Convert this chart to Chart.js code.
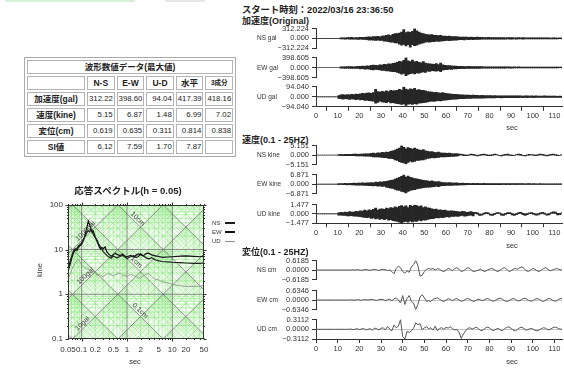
<!DOCTYPE html>
<html><head><meta charset="utf-8">
<script src="https://cdn.jsdelivr.net/npm/chart.js@4.4.1/dist/chart.umd.min.js"></script>
<style>
html,body{margin:0;padding:0;background:#fff}
body{width:564px;height:368px;position:relative;overflow:hidden;font-family:"Liberation Sans","Noto Sans CJK JP",sans-serif;color:#222}
.t{position:absolute;white-space:nowrap;line-height:1;transform:translateY(-50%)}
canvas{position:absolute}
.strip{position:absolute;top:0;height:2px}
table.wt{position:absolute;left:24px;top:57px;width:212px;border-collapse:separate;border-spacing:2px;border:1px solid #aaa;table-layout:fixed;font-size:8.5px;color:#222}
table.wt td{border:1px solid #b4b4b4;height:12px;padding:0 1px;line-height:12px;white-space:nowrap;overflow:hidden}
table.wt td.h{font-weight:bold;text-align:center}
table.wt td.v{text-align:right;font-size:7.8px;padding-right:1px}
table.wt td.small{font-size:6.5px}
</style>
</head><body>
<div class="strip" style="left:5px;width:130px;background:rgba(140,215,140,0.35)"></div>
<div class="strip" style="left:165px;width:40px;background:rgba(160,160,160,0.25)"></div>
<table class="wt" id="peakTable">
<colgroup><col style="width:58px"><col><col><col><col><col></colgroup>
</table>
<script>
// ---------- peak value table ----------
const tableTitle = '波形数値データ(最大値)';
const tableCols = ['N-S', 'E-W', 'U-D', '水平', '3成分'];
const tableRowNames = ['加速度(gal)', '速度(kine)', '変位(cm)', 'SI値'];
const peakAcc = ['312.22', '398.60', '94.04', '417.39', '418.16'];
const peakVel = ['5.15', '6.87', '1.48', '6.99', '7.02'];
const peakDisp = ['0.619', '0.635', '0.311', '0.814', '0.838'];
const siValues = ['6.12', '7.59', '1.70', '7.87', ''];

// ---------- response spectrum (h = 0.05) ----------
const specPeriods = [0.05,0.055,0.06,0.065,0.07,0.075,0.08,0.085,0.09,0.1,
  0.11,0.12,0.13,0.14,0.15,0.16,0.17,0.18,0.2,0.22,
  0.24,0.26,0.28,0.3,0.33,0.36,0.4,0.45,0.5,0.55,
  0.6,0.7,0.8,0.9,1.0,1.2,1.4,1.6,1.8,2.0,
  2.3,2.6,3.0,3.5,4,5,6,8,10,15,
  20,30,40,50];
const specNS = [3.6,5.2,7.0,9.0,10.2,9.4,11.0,12.0,12.6,14.0,
  17,20,24,26.5,25,28,27,22,18.5,16,
  13,11.5,10,9.0,8.1,7.4,6.8,6.4,7.1,6.8,
  6.5,7.0,7.4,6.8,6.3,6.9,7.3,6.6,7.0,8.1,
  7.2,6.6,6.2,6.6,6.0,5.6,5.4,5.3,5.2,5.1,
  5.0,4.9,4.9,5.0];
const specEW = [3.2,4.5,6.2,8.0,9.6,10.5,9.8,11.2,12.0,13.0,
  16,22,31,43,36,29,24,26,19,15,
  12,10.2,11.2,10.4,11.5,8.8,7.8,7.1,7.6,8.3,
  7.8,7.3,7.9,7.1,6.9,7.4,6.8,7.5,8.0,7.6,
  7.2,8.1,8.3,7.6,7.3,7.0,6.7,6.8,6.9,7.1,
  7.2,7.0,6.9,7.1];
const specUD = [2.2,2.8,3.4,4.2,4.8,5.2,5.8,6.0,5.5,4.6,
  4.2,3.9,3.6,3.8,3.3,3.1,3.0,3.2,3.1,2.6,
  2.8,2.7,2.5,2.5,2.7,2.8,2.9,2.7,2.6,2.8,
  2.8,3.0,2.7,2.6,2.5,2.8,2.6,2.5,2.3,2.3,
  2.6,2.8,2.9,2.5,2.2,2.1,1.9,1.8,1.65,1.55,
  1.5,1.5,1.5,1.6];
const specPeriodTicks = [0.05,0.1,0.2,0.5,1,2,5,10,20,50];
const specVelTicks = [0.1,1,10,100];
// tripartite grid: decades of velocity (kine), period (s), displacement (cm), acceleration (gal)
const velDecades = [0.1,1,10];
const perDecades = [0.01,0.1,1,10];
const dispDecades = [0.0001,0.001,0.01,0.1,1,10,100,1000];
const accDecades = [0.01,0.1,1,10,100,1000,10000];
const gridMantissas = [2,3,4,5,6,7,8,9];
const diagLabels = [
  {kind:'disp', val:10, T:1.5, text:'10cm'},
  {kind:'disp', val:1, T:1.4, text:'1cm'},
  {kind:'disp', val:0.1, T:1.7, text:'0.1cm'},
  {kind:'acc', val:1000, T:0.14, text:'1000gal'},
  {kind:'acc', val:100, T:0.14, text:'100gal'},
  {kind:'acc', val:10, T:0.12, text:'10gal'}
];

// ---------- waveforms: per-second range [low, high], t = 0..114 s ----------
const timeTicks = [0,10,20,30,40,50,60,70,80,90,100,110];
const accPeaks = [312.224, 398.605, 94.040];
const velPeaks = [5.151, 6.871, 1.477];
const dispPeaks = [0.6185, 0.6346, 0.3112];

const accNSHigh = [2,2,2,2,2,2,2,2,2,2,2,
  15,20,18,25,22,30,20,28,25,32,30,35,
  45,50,40,60,55,65,50,70,
  80,95,110,90,130,150,
  150,170,200,280,180,210,190,220,312.224,240,200,170,150,130,120,
  110,120,95,100,90,95,75,
  70,65,75,60,55,60,50,
  40,45,38,42,35,40,36,32,38,30,34,
  28,25,30,26,24,28,22,25,27,23,20,24,22,26,21,19,23,20,22,18,21,19,17,20,18,16,19,17,15,18,16,14,17,15,13,16,14,12];
const accNSLow = [-2,-2,-2,-2,-2,-2,-2,-2,-2,-2,-2,
  -18,-15,-22,-20,-28,-24,-26,-22,-30,-28,-34,-30,
  -42,-55,-48,-52,-62,-58,-66,-60,
  -85,-90,-105,-120,-115,-140,
  -140,-180,-210,-190,-240,-200,-280,-200,-230,-210,-180,-160,-140,-120,-110,
  -115,-100,-105,-90,-95,-85,-80,
  -72,-60,-68,-62,-58,-52,-48,
  -42,-40,-44,-36,-38,-34,-37,-30,-33,-32,-28,
  -26,-28,-24,-27,-25,-22,-26,-23,-21,-25,-22,-20,-24,-21,-19,-22,-20,-18,-21,-19,-17,-20,-18,-16,-19,-17,-15,-18,-16,-14,-17,-15,-13,-16,-14,-12,-15,-13];
const accEWHigh = [1,1,1,1,1,1,1,1,1,1,1,
  25,30,28,35,32,40,30,38,42,
  50,60,45,70,55,85,100,90,75,
  110,95,130,120,150,140,170,
  180,210,250,230,290,398.605,270,240,300,230,250,210,190,240,180,160,
  150,140,130,160,120,180,110,
  90,80,75,70,60,55,50,
  45,42,40,38,44,36,35,38,33,32,35,30,31,29,28,
  27,25,28,24,26,23,25,22,24,21,23,20,22,19,21,18,20,17,19,18,16,18,15,17,14,16,15,13,15,12,14,13,12,11];
const accEWLow = [-1,-1,-1,-1,-1,-1,-1,-1,-1,-1,-1,
  -22,-28,-32,-30,-36,-34,-38,-35,-40,
  -55,-50,-62,-58,-70,-90,-95,-80,-85,
  -100,-120,-115,-140,-135,-160,-170,
  -170,-200,-230,-270,-240,-330,-280,-250,-230,-260,-220,-230,-200,-180,-200,-150,
  -160,-130,-140,-150,-130,-170,-105,
  -85,-82,-70,-72,-58,-56,-48,
  -44,-40,-42,-36,-40,-38,-34,-36,-32,-34,-31,-30,-29,-30,-27,
  -26,-27,-24,-25,-24,-22,-24,-21,-23,-22,-20,-21,-20,-18,-20,-17,-19,-18,-16,-17,-15,-17,-14,-16,-15,-13,-14,-13,-12,-13,-12,-11,-12,-10];
const accUDHigh = [0.5,0.5,0.5,0.5,0.5,0.5,0.5,0.5,0.5,0.5,
  12,18,20,16,22,19,24,21,25,23,
  28,32,30,35,38,33,40,
  70,48,45,52,46,55,50,60,55,
  58,62,70,64,94.04,72,66,76,70,80,64,68,62,60,55,50,46,
  44,40,42,38,36,40,33,30,
  28,26,24,23,20,19,
  18,16,17,15,14,16,13,14,12,13,12,11,12,11,
  10,11,9,10,9,10,8,9,10,8,9,8,9,8,7,8,9,7,8,7,8,7,6,7,8,6,7,6,7,6,5,6,5,6];
const accUDLow = [-0.5,-0.5,-0.5,-0.5,-0.5,-0.5,-0.5,-0.5,-0.5,-0.5,
  -15,-17,-22,-18,-20,-24,-21,-23,-26,-22,
  -30,-28,-34,-32,-36,-38,-42,
  -60,-52,-40,-48,-50,-55,-46,-58,-56,
  -60,-64,-66,-72,-68,-80,-70,-68,-72,-64,-70,-60,-58,-56,-52,-48,-44,
  -42,-44,-38,-36,-38,-34,-31,-29,
  -28,-25,-23,-22,-20,-18,
  -17,-17,-16,-15,-15,-14,-14,-13,-13,-12,-12,-11,-11,-10,
  -10,-10,-9,-9,-10,-9,-9,-8,-9,-8,-8,-9,-8,-7,-8,-7,-8,-7,-7,-8,-7,-6,-7,-7,-6,-6,-7,-6,-6,-5,-6,-5,-5,-5];

const velNSHigh = [0.02,0.02,0.02,0.02,0.02,0.02,0.02,0.02,0.02,0.02,
  0.2,0.3,0.25,0.35,0.3,0.4,0.35,0.45,0.5,0.4,0.55,0.5,0.6,0.7,0.65,
  0.9,1.1,0.8,1.2,1.0,1.4,1.3,1.6,1.5,2.0,
  2.2,2.6,3.2,3.8,5.151,4.2,3.4,4.0,3.6,3.2,3.8,3.2,2.8,2.5,2.9,2.3,2.0,
  1.7,1.9,1.5,1.3,1.6,1.2,1.1,
  1.0,0.9,1.1,0.8,0.7,0.75,0.6,
  0.5,0.3,0.05,-0.1,0.15,0.45,0.4,0.1,-0.15,0.05,0.35,0.5,0.25,-0.05,-0.1,0.2,0.45,0.35,0.0,-0.2,
  0.1,0.4,0.45,0.15,-0.1,0.0,0.3,0.5,0.3,0.0,-0.15,0.15,0.4,0.35,0.05,-0.1,0.2,0.45,0.4,0.1,
  -0.15,0.05,0.35,0.45,0.2,-0.1,0.0,0.3,0.4];
const velNSLow = [-0.02,-0.02,-0.02,-0.02,-0.02,-0.02,-0.02,-0.02,-0.02,-0.02,
  -0.25,-0.2,-0.3,-0.3,-0.35,-0.35,-0.4,-0.4,-0.45,-0.5,-0.5,-0.55,-0.6,-0.65,-0.7,
  -0.8,-1.0,-1.0,-1.1,-1.2,-1.3,-1.5,-1.4,-1.8,-1.9,
  -2.0,-2.7,-2.9,-3.6,-4.0,-4.3,-4.9,-4.0,-3.4,-3.7,-3.5,-3.0,-2.9,-2.6,-2.7,-2.2,-1.8,
  -1.7,-1.5,-1.6,-1.4,-1.3,-1.1,-1.0,
  -1.0,-0.95,-0.85,-0.8,-0.75,-0.6,-0.55,
  0.2,-0.05,-0.3,-0.4,-0.15,0.15,0.05,-0.25,-0.45,-0.25,0.05,0.2,-0.1,-0.35,-0.4,-0.1,0.15,0.0,-0.3,-0.45,
  -0.2,0.1,0.1,-0.2,-0.4,-0.3,0.0,0.2,-0.05,-0.3,-0.45,-0.15,0.1,0.0,-0.25,-0.4,-0.1,0.15,0.05,-0.25,
  -0.45,-0.25,0.05,0.15,-0.15,-0.4,-0.3,0.0,0.1];
const velEWHigh = [0.02,0.02,0.02,0.02,0.02,0.02,0.02,0.02,0.02,0.02,
  0.3,0.4,0.35,0.5,0.45,0.6,0.5,0.7,0.6,0.8,0.7,0.9,0.8,1.0,0.9,
  1.2,1.0,1.4,1.3,1.6,1.5,1.8,2.0,2.4,2.8,
  3.0,3.6,4.3,5.0,5.6,6.871,5.2,5.8,4.9,4.5,4.1,3.8,3.4,3.1,2.8,2.6,
  2.4,2.1,2.3,1.8,1.7,1.9,1.4,1.2,
  1.2,1.0,1.1,0.9,0.8,0.85,0.7,0.65,0.7,0.6,0.55,
  0.5,0.45,0.55,0.4,0.5,0.45,0.4,0.5,0.42,0.38,0.45,0.4,0.35,0.42,0.38,0.4,0.35,0.32,0.38,0.34,
  0.3,0.36,0.32,0.3,0.34,0.3,0.28,0.32,0.3,0.26,0.3,0.28,0.25,0.3,0.27,0.24,0.28,0.25,0.22,0.26,
  0.24,0.22,0.25,0.23,0.2];
const velEWLow = [-0.02,-0.02,-0.02,-0.02,-0.02,-0.02,-0.02,-0.02,-0.02,-0.02,
  -0.35,-0.3,-0.45,-0.4,-0.55,-0.5,-0.65,-0.6,-0.75,-0.7,-0.85,-0.8,-0.95,-0.9,-1.1,
  -1.1,-1.3,-1.2,-1.5,-1.4,-1.7,-1.6,-2.2,-2.6,-3.0,
  -3.2,-3.8,-4.5,-4.7,-5.4,-5.8,-6.6,-5.3,-4.7,-4.3,-4.0,-3.6,-3.2,-2.9,-2.6,-2.4,
  -2.3,-2.2,-2.0,-1.9,-1.6,-1.8,-1.3,-1.1,
  -1.1,-1.05,-0.95,-0.9,-0.85,-0.75,-0.7,-0.6,-0.65,-0.55,-0.5,
  -0.48,-0.5,-0.42,-0.46,-0.44,-0.4,-0.45,-0.4,-0.38,-0.42,-0.36,-0.4,-0.35,-0.38,-0.34,-0.36,-0.32,-0.35,-0.3,-0.33,
  -0.32,-0.3,-0.33,-0.28,-0.3,-0.27,-0.3,-0.26,-0.28,-0.25,-0.27,-0.24,-0.26,-0.23,-0.25,-0.22,-0.24,-0.22,-0.23,-0.2,
  -0.22,-0.21,-0.2,-0.21,-0.19];
const velUDHigh = [0.01,0.01,0.01,0.01,0.01,0.01,0.01,0.01,0.01,0.01,
  0.15,0.25,0.2,0.3,0.25,0.35,0.3,0.28,0.4,0.35,
  0.5,0.45,0.6,0.5,0.65,0.55,0.7,0.9,0.6,0.75,
  0.8,0.7,0.9,0.85,1.0,0.9,1.1,1.0,
  1.2,1.3,1.1,1.25,1.0,1.35,1.2,1.4,1.3,1.15,1.25,1.0,1.1,0.95,0.9,
  0.8,0.7,0.75,0.6,0.65,0.55,0.6,0.5,0.45,0.5,
  0.45,0.4,0.35,0.3,0.4,0.35,0.25,0.3,0.35,0.25,
  0.25,0.15,-0.02,-0.05,0.12,0.24,0.18,0.0,-0.06,0.1,0.22,0.2,0.02,-0.08,0.08,0.2,0.22,0.05,-0.05,0.06,
  0.2,0.24,0.08,-0.04,0.04,0.18,0.22,0.1,-0.02,0.02,0.16,0.24,0.14,0.0,0.05,0.2,0.32,0.3,0.1,0.05,
  0.18,0.22];
const velUDLow = [-0.01,-0.01,-0.01,-0.01,-0.01,-0.01,-0.01,-0.01,-0.01,-0.01,
  -0.2,-0.2,-0.25,-0.25,-0.3,-0.3,-0.28,-0.35,-0.35,-0.4,
  -0.45,-0.5,-0.55,-0.6,-0.55,-0.7,-0.65,-0.8,-0.7,-0.85,
  -0.75,-0.9,-0.8,-1.0,-0.9,-1.05,-1.1,-1.2,
  -1.3,-1.477,-1.25,-1.2,-1.3,-1.1,-1.25,-1.15,-1.2,-1.0,-1.1,-0.95,-1.0,-0.85,-0.8,
  -0.75,-0.7,-0.6,-0.65,-0.55,-0.6,-0.5,-0.45,-0.5,-0.4,
  -0.4,-0.35,-0.4,-0.3,-0.25,-0.35,-0.3,-0.25,-0.2,-0.3,
  0.08,-0.05,-0.22,-0.2,-0.05,0.08,-0.02,-0.2,-0.22,-0.08,0.06,0.0,-0.18,-0.24,-0.1,0.04,0.02,-0.15,-0.22,-0.12,
  0.02,0.06,-0.12,-0.22,-0.14,0.0,0.04,-0.1,-0.2,-0.16,-0.02,0.06,-0.06,-0.2,-0.15,0.0,0.12,0.08,-0.15,-0.12,
  0.0,0.05];

// displacement, one sample per second
const dispNS = [0,0,0,0,0,0,0,0,0,0,0,0,0,0,0,0,0,
  0.01,-0.01,0.02,0,-0.02,0.01,0.03,0,-0.02,0.02,0.04,0.01,-0.03,0.02,0.05,0.02,-0.03,
  0.0,-0.1,-0.25,0.1,0.25,0.15,-0.1,-0.2,-0.05,-0.15,0.2,0.35,0.6185,0.3,-0.4,-0.35,-0.1,0.05,0.1,
  0.05,0.1,0.0,0.08,0.05,-0.05,-0.1,0.0,0.1,0.05,
  -0.05,0.1,0.15,0.05,-0.1,-0.05,0.05,0.15,0.1,-0.05,
  -0.1,-0.05,0.0,0.05,-0.05,-0.1,0.0,0.05,0.1,0.05,
  -0.05,-0.1,0.0,0.1,0.15,0.05,-0.1,-0.05,0.05,0.1,
  0.05,0.15,0.2,0.1,-0.05,-0.1,0.0,0.1,0.05,-0.05,
  -0.1,0.0,0.1,0.15,0.05,-0.05,0.0,0.05,0.1,0.05,
  0.0,0.05];
const dispEW = [0,0,0,0,0,0,0,0,0,0,0,0,0,0,0,0,
  0.01,0,-0.01,0.02,0.01,-0.02,0.03,0.02,-0.01,0.03,0.04,0.0,-0.03,0.02,0.05,0.03,-0.04,0.02,
  0.06,-0.05,0.08,0.15,0.0,-0.2,0.3,-0.3,0.1,0.3,-0.1,-0.2,-0.6346,-0.3,0.2,0.35,0.15,-0.1,-0.05,-0.1,0.05,0.1,0.15,0.05,
  -0.05,-0.1,0.0,0.08,0.05,-0.05,0.05,0.1,0.0,-0.08,
  -0.05,0.05,0.1,0.05,-0.05,-0.1,0.0,0.05,0.0,-0.05,
  0.05,0.1,0.05,-0.05,-0.08,0.0,0.08,0.12,0.05,-0.05,
  -0.1,-0.05,0.05,0.1,0.05,-0.05,-0.05,0.05,0.12,0.08,
  -0.02,-0.08,-0.05,0.05,0.1,0.05,-0.05,-0.1,0.0,0.08,
  0.1,0.0,-0.08,-0.05,0.05,0.1,0.05];
const dispUD = [0,0,0,0,0,0,0,0,0,0,0,0,0,0,0,0,
  0.01,-0.01,0.0,0.02,-0.01,0.01,0.03,-0.02,0.0,0.02,-0.03,0.04,0.02,-0.02,0.03,0.05,-0.02,
  0.09,0.0,-0.05,0.14,0.05,0.1,0.3112,-0.24,-0.3112,-0.07,-0.1,-0.05,0.03,0.21,0.15,0.18,-0.02,0.05,0.08,0.02,0.05,-0.02,0.1,-0.05,0.03,
  0.05,0.0,0.06,0.04,0.08,0.02,-0.02,0.0,-0.1,-0.29,
  -0.15,-0.05,0.03,0.05,0.0,0.04,0.07,0.02,-0.04,-0.03,
  0.03,0.07,0.05,-0.02,-0.04,0.0,0.03,-0.02,-0.05,0.02,
  0.06,0.08,0.03,-0.03,-0.05,0.0,0.05,0.07,0.02,-0.03,
  0.0,0.03,0.01,-0.03,-0.05,-0.02,0.02,0.05,0.03,-0.02,
  0.0,0.04,0.07,0.06,0.02,0.0,0.03];

// ---------- helpers ----------
const FONT = '"Liberation Sans","Noto Sans CJK JP",sans-serif';
Chart.defaults.font.family = FONT;
Chart.defaults.color = '#333';

function txt(s, x, y, size, opts) {
  opts = opts || {};
  const d = document.createElement('div');
  d.className = 't';
  d.textContent = s;
  d.style.left = x + 'px';
  d.style.top = y + 'px';
  d.style.fontSize = size + 'px';
  if (opts.bold) d.style.fontWeight = 'bold';
  d.style.color = opts.color || '#222';
  if (opts.center) d.style.transform = 'translate(-50%,-50%)';
  if (opts.rotate) d.style.transform = 'translate(-50%,-50%) rotate(-90deg)';
  document.body.appendChild(d);
  return d;
}
function box(x, y, w, h, color) {
  const d = document.createElement('div');
  d.style.cssText = 'position:absolute;left:' + x + 'px;top:' + y + 'px;width:' + w + 'px;height:' + h + 'px;background:' + color;
  document.body.appendChild(d);
}
function addCanvas(left, top, w, h) {
  const c = document.createElement('canvas');
  c.width = w; c.height = h;
  c.style.left = left + 'px'; c.style.top = top + 'px';
  c.style.width = w + 'px'; c.style.height = h + 'px';
  document.body.appendChild(c);
  return c;
}

// ---------- table ----------
(function buildTable() {
  const t = document.getElementById('peakTable');
  let html = '<tr><td class="h" colspan="6">' + tableTitle + '</td></tr>';
  html += '<tr><td></td>' + tableCols.map((c, i) => '<td class="h' + (i === 4 ? ' small' : '') + '">' + c + '</td>').join('') + '</tr>';
  const rows = [peakAcc, peakVel, peakDisp, siValues];
  rows.forEach((r, i) => {
    html += '<tr><td class="h">' + tableRowNames[i] + '</td>' + r.map(v => '<td class="v">' + v + '</td>').join('') + '</tr>';
  });
  t.innerHTML = t.innerHTML + html;
})();

// ---------- response spectrum ----------
const TWO_PI = 2 * Math.PI;
function velOnLine(kind, val, T) { return kind === 'disp' ? TWO_PI * val / T : val * T / TWO_PI; }

const tripartite = {
  id: 'tripartite',
  beforeDatasetsDraw(chart) {
    const {ctx, chartArea: a, scales: {x, y}} = chart;
    const T0 = x.min, T1 = x.max, V0 = y.min, V1 = y.max;
    const P = (t, v) => [x.getPixelForValue(t), y.getPixelForValue(v)];
    const seg = (t0, v0, t1, v1) => { const p = P(t0, v0), q = P(t1, v1); ctx.moveTo(p[0], p[1]); ctx.lineTo(q[0], q[1]); };
    ctx.save();
    ctx.beginPath(); ctx.rect(a.left, a.top, a.right - a.left, a.bottom - a.top); ctx.clip();
    ctx.fillStyle = '#f6fdf4';
    ctx.fillRect(a.left, a.top, a.right - a.left, a.bottom - a.top);
    // fine green mesh
    ctx.strokeStyle = 'rgba(100,225,85,0.4)';
    ctx.lineWidth = 1;
    ctx.beginPath();
    for (const d of velDecades.concat([0.01])) for (const m of gridMantissas) { const v = m * d; seg(T0, v, T1, v); }
    for (const d of perDecades) for (const m of gridMantissas) { const t = m * d; seg(t, V0, t, V1); }
    for (const d of dispDecades) for (const m of gridMantissas) { const v = m * d; seg(T0, velOnLine('disp', v, T0), T1, velOnLine('disp', v, T1)); }
    for (const d of accDecades) for (const m of gridMantissas) { const v = m * d; seg(T0, velOnLine('acc', v, T0), T1, velOnLine('acc', v, T1)); }
    ctx.stroke();
    // decade lines
    ctx.strokeStyle = 'rgba(95,95,95,0.7)';
    ctx.beginPath();
    for (const v of velDecades) seg(T0, v, T1, v);
    for (const t of perDecades) seg(t, V0, t, V1);
    for (const d of dispDecades) seg(T0, velOnLine('disp', d, T0), T1, velOnLine('disp', d, T1));
    for (const d of accDecades) seg(T0, velOnLine('acc', d, T0), T1, velOnLine('acc', d, T1));
    ctx.stroke();
    // diagonal labels
    ctx.fillStyle = '#3a3a3a';
    ctx.font = '7px ' + FONT;
    ctx.textAlign = 'center';
    ctx.textBaseline = 'bottom';
    for (const l of diagLabels) {
      const p = P(l.T, velOnLine(l.kind, l.val, l.T));
      const q = P(l.T * 1.3, velOnLine(l.kind, l.val, l.T * 1.3));
      ctx.save();
      ctx.translate(p[0], p[1]);
      ctx.rotate(Math.atan2(q[1] - p[1], q[0] - p[0]));
      ctx.fillText(l.text, 0, -0.5);
      ctx.restore();
    }
    ctx.restore();
  },
  afterDatasetsDraw(chart) {
    const {ctx, chartArea: a, scales: {x, y}} = chart;
    ctx.save();
    ctx.strokeStyle = '#333';
    ctx.lineWidth = 1;
    const L = Math.round(a.left) + 0.5, R = Math.round(a.right) - 0.5, Tp = Math.round(a.top) + 0.5, B = Math.round(a.bottom) - 0.5;
    ctx.strokeRect(L, Tp, R - L, B - Tp);
    ctx.beginPath();
    for (const d of perDecades) for (const m of [1].concat(gridMantissas)) {
      const t = m * d; if (t < x.min - 1e-9 || t > x.max + 1e-9) continue;
      const X = Math.round(x.getPixelForValue(t)) + 0.5, len = m === 1 ? 3 : 1.5;
      ctx.moveTo(X, Tp); ctx.lineTo(X, Tp - len);
      ctx.moveTo(X, B); ctx.lineTo(X, B + len);
    }
    for (const d of velDecades.concat([0.01, 100])) for (const m of [1].concat(gridMantissas)) {
      const v = m * d; if (v < y.min - 1e-9 || v > y.max + 1e-9) continue;
      const Y = Math.round(y.getPixelForValue(v)) + 0.5, len = m === 1 ? 3 : 1.5;
      ctx.moveTo(L, Y); ctx.lineTo(L - len, Y);
      ctx.moveTo(R, Y); ctx.lineTo(R + len, Y);
    }
    ctx.stroke();
    ctx.restore();
  }
};

(function spectrum() {
  const top = 195, h = 173;
  const cv = addCanvas(0, top, 240, h);
  const pts = arr => specPeriods.map((t, i) => ({x: t, y: arr[i]}));
  new Chart(cv, {
    type: 'line',
    data: {datasets: [
      {label: 'UD', data: pts(specUD), borderColor: '#8a8a8a', borderWidth: 0.8, pointRadius: 0},
      {label: 'NS', data: pts(specNS), borderColor: '#1e1e1e', borderWidth: 1.2, pointRadius: 0},
      {label: 'EW', data: pts(specEW), borderColor: '#111', borderWidth: 1.2, pointRadius: 0}
    ]},
    options: {
      responsive: false, animation: false, events: [],
      layout: {padding: {top: 8, right: 36, left: 0, bottom: 0}},
      plugins: {legend: {display: false}, tooltip: {enabled: false}},
      scales: {
        x: {type: 'logarithmic', min: 0.05, max: 50,
          afterBuildTicks: s => { s.ticks = specPeriodTicks.map(v => ({value: v})); },
          afterFit: s => { s.height = 29; },
          ticks: {callback: v => String(v), font: {size: 8}, color: '#333', padding: 6, maxRotation: 0, autoSkip: false},
          grid: {display: false, drawTicks: false}, border: {display: false}},
        y: {type: 'logarithmic', min: 0.1, max: 100,
          afterBuildTicks: s => { s.ticks = specVelTicks.map(v => ({value: v})); },
          afterFit: s => { s.width = 68; },
          ticks: {callback: v => String(v), font: {size: 8}, color: '#333', padding: 5, autoSkip: false},
          grid: {display: false, drawTicks: false}, border: {display: false}}
      }
    },
    plugins: [tripartite]
  });
  txt('応答スペクトル(h = 0.05)', 128, 191, 9.5, {bold: true, center: true});
  txt('kine', 40, 270, 7.5, {rotate: true, color: '#333'});
  txt('sec', 135, 361.5, 7.5, {center: true, color: '#333'});
  // legend
  const legend = [['NS', '#1e1e1e', 1.3], ['EW', '#111', 1.3], ['UD', '#8a8a8a', 0.8]];
  legend.forEach((l, i) => {
    const yy = 223 + i * 9;
    txt(l[0], 212, yy, 6, {color: '#333'});
    box(225, yy - l[2] / 2, 10, l[2], l[1]);
  });
})();

// ---------- waveform traces ----------
function fmtTick(v, M, dec) {
  if (Math.abs(v) < 1e-12) return (0).toFixed(dec);
  return (v < 0 ? '\u2212' : '') + M.toFixed(dec);
}
function traceChart(cfg) {
  const PAD = 7, AXIS_H = 15;
  const yTop = cfg.zero - cfg.half, yBot = cfg.zero + cfg.half;
  const top = Math.floor(yTop - PAD);
  const h = cfg.bottom ? Math.ceil(yBot + AXIS_H) - top : Math.ceil(yBot + PAD) - top;
  const cv = addCanvas(240, top, 324, h);
  const axisH = top + h - yBot;
  let ds;
  if (cfg.values) {
    ds = {type: 'line', data: cfg.values.map((v, i) => ({x: i, y: v})), borderColor: '#555', borderWidth: 1, pointRadius: 0, tension: 0};
  } else {
    ds = {type: 'bar', data: cfg.high.map((v, i) => ({x: i + 0.5, y: [cfg.low[i], v]})), backgroundColor: '#262626', borderWidth: 0, barPercentage: 1, categoryPercentage: 1};
  }
  const xScale = {type: 'linear', min: 0, max: 113.5, offset: false, display: !!cfg.bottom,
    afterBuildTicks: s => { s.ticks = timeTicks.map(v => ({value: v})); },
    ticks: {font: {size: 7.5}, color: '#333', padding: 1, maxRotation: 0, autoSkip: false},
    grid: {drawOnChartArea: false, tickLength: 4, tickColor: '#333'},
    border: {display: true, color: '#333'}};
  if (cfg.bottom) xScale.afterFit = s => { s.height = axisH; };
  new Chart(cv, {
    type: cfg.values ? 'line' : 'bar',
    data: {datasets: [ds]},
    options: {
      responsive: false, animation: false, events: [],
      layout: {padding: {top: yTop - top, bottom: cfg.bottom ? 0 : top + h - yBot, left: 0, right: 2}},
      plugins: {legend: {display: false}, tooltip: {enabled: false}},
      scales: {
        x: xScale,
        y: {type: 'linear', min: -cfg.peak, max: cfg.peak,
          afterBuildTicks: s => { s.ticks = [-cfg.peak, 0, cfg.peak].map(v => ({value: v})); },
          afterFit: s => { s.width = 76; },
          ticks: {font: {size: 7.5}, color: '#333', padding: 3, autoSkip: false, callback: v => fmtTick(v, cfg.peak, cfg.dec)},
          grid: {color: c => (c.tick && Math.abs(c.tick.value) < 1e-12) ? '#c2c2c2' : 'rgba(0,0,0,0)', tickColor: '#333', tickLength: 4, lineWidth: 1},
          border: {display: true, color: '#333'}}
      }
    }
  });
  txt(cfg.name, 257, cfg.zero, 6.5, {color: '#333'});
}

txt('スタート時刻：2022/03/16 23:36:50', 242, 11, 9.3, {bold: true});
txt('加速度(Original)', 242, 20.5, 9, {bold: true});
txt('速度(0.1 - 25HZ)', 242, 140, 9, {bold: true});
txt('変位(0.1 - 25HZ)', 242, 251.5, 9, {bold: true});

const accRows = [38.3, 67.5, 96.8];
traceChart({name: 'NS gal', zero: accRows[0], half: 10, peak: accPeaks[0], dec: 3, high: accNSHigh, low: accNSLow});
traceChart({name: 'EW gal', zero: accRows[1], half: 10, peak: accPeaks[1], dec: 3, high: accEWHigh, low: accEWLow});
traceChart({name: 'UD gal', zero: accRows[2], half: 10, peak: accPeaks[2], dec: 3, high: accUDHigh, low: accUDLow, bottom: true});

const velRows = [155, 184.3, 213.7];
traceChart({name: 'NS kine', zero: velRows[0], half: 9.6, peak: velPeaks[0], dec: 3, high: velNSHigh, low: velNSLow});
traceChart({name: 'EW kine', zero: velRows[1], half: 9.6, peak: velPeaks[1], dec: 3, high: velEWHigh, low: velEWLow});
traceChart({name: 'UD kine', zero: velRows[2], half: 9.6, peak: velPeaks[2], dec: 3, high: velUDHigh, low: velUDLow, bottom: true});

const dispRows = [270, 300, 329.3];
traceChart({name: 'NS cm', zero: dispRows[0], half: 9.7, peak: dispPeaks[0], dec: 4, values: dispNS});
traceChart({name: 'EW cm', zero: dispRows[1], half: 9.7, peak: dispPeaks[1], dec: 4, values: dispEW});
traceChart({name: 'UD cm', zero: dispRows[2], half: 9.7, peak: dispPeaks[2], dec: 4, values: dispUD, bottom: true});

txt('sec', 512, 127.5, 7.5, {center: true, color: '#333'});
txt('sec', 512, 245.5, 7.5, {center: true, color: '#333'});
txt('sec', 512, 361.5, 7.5, {center: true, color: '#333'});
</script>
</body></html>
